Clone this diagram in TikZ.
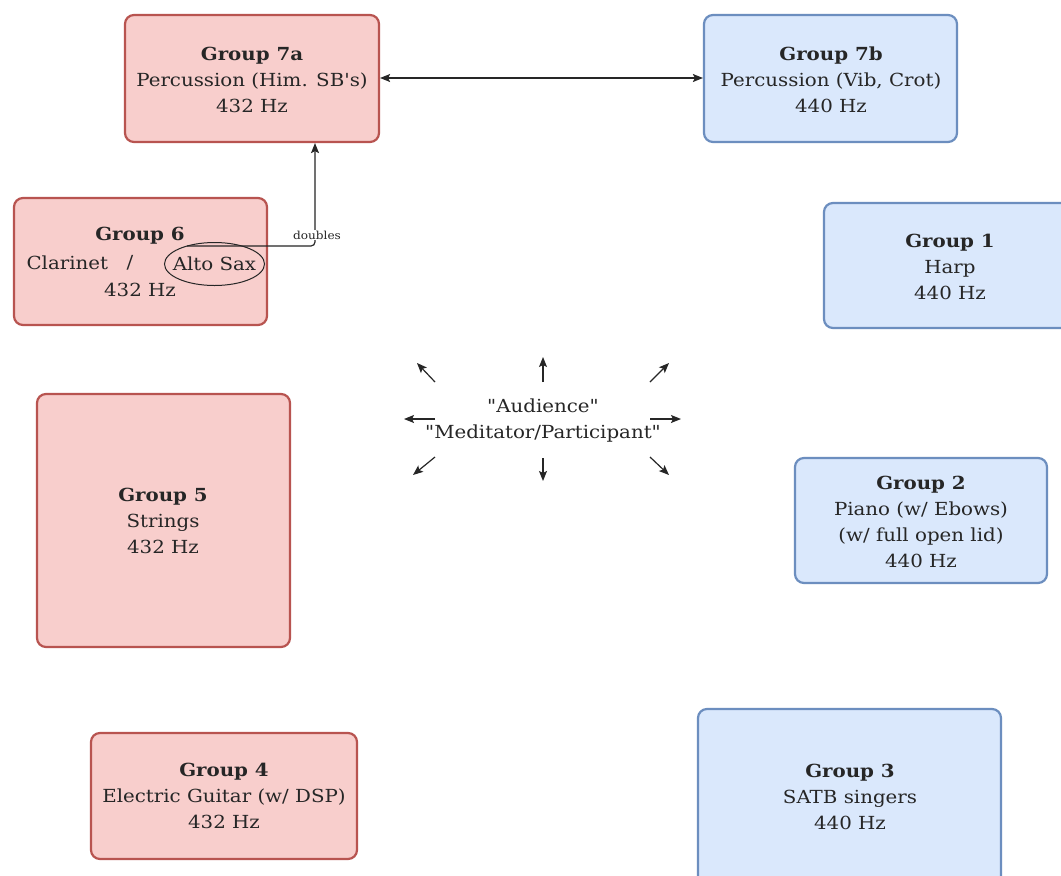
\documentclass[tikz,border=0pt]{standalone}
\usepackage{fontspec}
\setmainfont{DejaVu Serif}[Ligatures=TeXOff,FakeStretch=1.1]
\usetikzlibrary{arrows.meta,shapes.geometric}
\definecolor{redfill}{HTML}{F8CECC}
\definecolor{redline}{HTML}{B85450}
\definecolor{bluefill}{HTML}{DAE8FC}
\definecolor{blueline}{HTML}{6C8EBF}
\tikzset{
  redbox/.style={draw=redline,fill=redfill,line width=2.2pt,rounded corners=9pt},
  bluebox/.style={draw=blueline,fill=bluefill,line width=2.2pt,rounded corners=9pt},
  lbl/.style={align=center,font=\fontsize{18}{26}\selectfont,text=black!85},
  con/.style={-{Stealth[length=10pt,width=8pt,inset=2pt]},line width=1.2pt,black!85},
  con2/.style={{Stealth[length=10pt,width=8pt,inset=2pt]}-{Stealth[length=10pt,width=8pt,inset=2pt]},line width=1.2pt,black!85},
}
\begin{document}
\begin{tikzpicture}[x=1pt,y=-1pt]
\useasboundingbox[fill=white] (0,0) rectangle (1061,876);
% boxes
\node[redbox,minimum width=254pt,minimum height=127pt] (g7a) at (252,78.5) {};
\node[bluebox,minimum width=253pt,minimum height=127pt] (g7b) at (830.5,78.5) {};
\node[redbox,minimum width=253pt,minimum height=127pt] (g6) at (140.5,261.5) {};
\node[bluebox,minimum width=253pt,minimum height=125pt] (g1) at (950.5,265.5) {};
\node[redbox,minimum width=253pt,minimum height=253pt] (g5) at (163.5,520.5) {};
\node[bluebox,minimum width=252pt,minimum height=125pt] (g2) at (921,520.5) {};
\node[redbox,minimum width=266pt,minimum height=126pt] (g4) at (224,796) {};
\node[bluebox,minimum width=303pt,minimum height=176pt] (g3) at (849.5,797) {};
% labels
\node[lbl] (t7a) at (252,80) {\textbf{Group 7a}\\Percussion (Him. SB's)\\432 Hz};
\node[lbl] (t7b) at (831,80) {\textbf{Group 7b}\\Percussion (Vib, Crot)\\440 Hz};
\node[lbl] (t6a) at (140,236) {\textbf{Group 6}};
\node[lbl,anchor=base west] (t6b) at (23,269) {Clarinet};
\node[lbl] (t6c) at (130,263) {/};
\node[lbl,inner sep=0pt] (sax) at (214.5,264) {Alto Sax};
\draw[black!85,line width=1pt] (sax.center) ellipse [x radius=50pt, y radius=21.5pt];
\node[lbl] (t6d) at (140,290) {432 Hz};
\node[lbl] (t1) at (950,267) {\textbf{Group 1}\\Harp\\440 Hz};
\node[lbl] (t5) at (163,521) {\textbf{Group 5}\\Strings\\432 Hz};
\node[lbl] (t2) at (921,522) {\textbf{Group 2}\\Piano (w/ Ebows)\\(w/ full open lid)\\440 Hz};
\node[lbl] (t4) at (224,796) {\textbf{Group 4}\\Electric Guitar (w/ DSP)\\432 Hz};
\node[lbl] (t3) at (850,797) {\textbf{Group 3}\\SATB singers\\440 Hz};
\node[lbl] (aud) at (543,421) {"Audience"\\"Meditator/Participant"};
% connectors
\draw[con2] (g7a.east |- 0,78) -- (g7b.west |- 0,78);
\coordinate (ds) at (187,246);
\coordinate (dc) at (315,246);
\draw[con,rounded corners=4pt] (ds) -- (dc) -- (g7a.south -| dc);
\node[font=\fontsize{11}{12}\selectfont,fill=white,inner sep=1pt,text=black!85] (dbl) at (317,235) {doubles};
% radial arrows
\foreach \n/\sx/\sy/\ex/\ey in {n/543/382/543/357, s/543/458/543/481, w/435/419/404/419, e/650/419/681/419, nw/435/382/417/363, ne/650/382/669/363, sw/435/457/413/475, se/650/457/669/475}{
  \coordinate (a\n) at (\sx,\sy);
  \coordinate (b\n) at (\ex,\ey);
  \draw[con] (a\n) -- (b\n);
}
\end{tikzpicture}
\end{document}
